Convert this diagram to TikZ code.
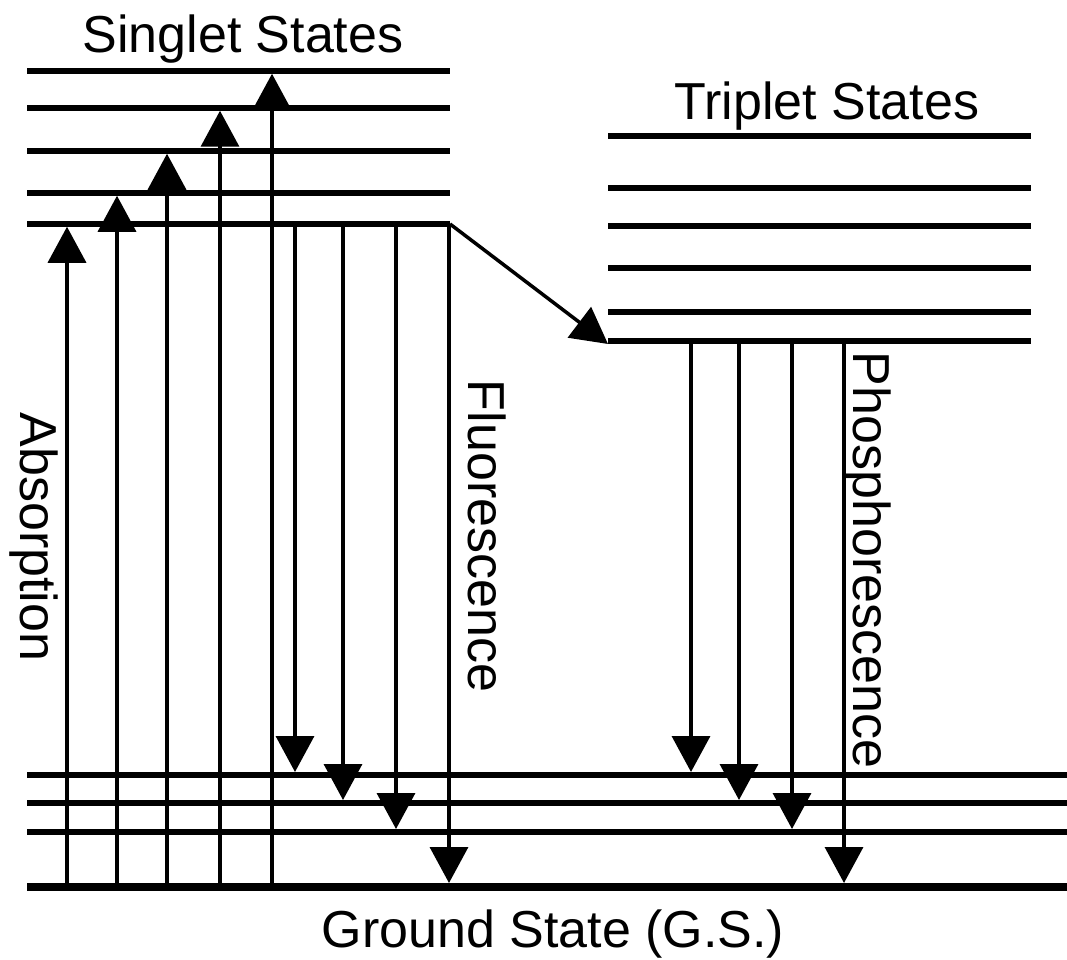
\documentclass[tikz,border=0pt]{standalone}
\usepackage{fontspec}
\setmainfont{Liberation Sans}
\usetikzlibrary{arrows.meta}
\begin{document}
\begin{tikzpicture}[x=1pt,y=-1pt,
  level/.style={line width=5.5pt},
  sublevel/.style={line width=6pt},
  groundlevel/.style={line width=8pt},
  trans/.style={line width=3.5pt,-{Triangle[length=36pt,width=38pt]}},
  lbl/.style={inner sep=0pt,font=\fontsize{52}{60}\selectfont},
  vlbl/.style={lbl,rotate=-90,anchor=base}]
\useasboundingbox (0,0) rectangle (1067,960);

% energy levels
\coordinate (S5) at (0,71);
\coordinate (S4) at (0,108);
\coordinate (S3) at (0,151);
\coordinate (S2) at (0,193);
\coordinate (S1) at (0,224);
\coordinate (T6) at (0,136);
\coordinate (T5) at (0,188);
\coordinate (T4) at (0,226);
\coordinate (T3) at (0,268);
\coordinate (T2) at (0,312);
\coordinate (T1) at (0,341);
\coordinate (G3) at (0,775);
\coordinate (G2) at (0,803);
\coordinate (G1) at (0,832);
\coordinate (G)  at (0,887);

% horizontal extents
\coordinate (sl) at (27,0);
\coordinate (sr) at (450,0);
\coordinate (tl) at (608,0);
\coordinate (tr) at (1031,0);
\coordinate (gr) at (1067,0);

\foreach \l in {S1,S2,S3,S4,S5}
  \draw[level] (sl |- \l) -- (sr |- \l);
\foreach \l in {T1,T2,T3,T4,T5,T6}
  \draw[level] (tl |- \l) -- (tr |- \l);
\foreach \l in {G1,G2,G3}
  \draw[sublevel] (sl |- \l) -- (gr |- \l);
\draw[groundlevel] (sl |- G) -- (gr |- G);

% absorption
\coordinate (a1) at (67,0);
\coordinate (a2) at (117,0);
\coordinate (a3) at (167,0);
\coordinate (a4) at (220,0);
\coordinate (a5) at (272,0);
\draw[trans,shorten >=2.75pt] (a1 |- G) -- (a1 |- S1);
\draw[trans,shorten >=2.75pt] (a2 |- G) -- (a2 |- S2);
\draw[trans,shorten >=2.75pt] (a3 |- G) -- (a3 |- S3);
\draw[trans,shorten >=2.75pt] (a4 |- G) -- (a4 |- S4);
\draw[trans,shorten >=2.75pt] (a5 |- G) -- (a5 |- S5);

% fluorescence
\coordinate (f1) at (295,0);
\coordinate (f2) at (343,0);
\coordinate (f3) at (396,0);
\coordinate (f4) at (449,0);
\draw[trans,shorten >=3pt] (f1 |- S1) -- (f1 |- G3);
\draw[trans,shorten >=3pt] (f2 |- S1) -- (f2 |- G2);
\draw[trans,shorten >=3pt] (f3 |- S1) -- (f3 |- G1);
\draw[trans,shorten >=4pt] (f4 |- S1) -- (f4 |- G);

% intersystem crossing
\draw[trans] (sr |- S1) -- ([yshift=-3pt]tl |- T1);

% phosphorescence
\coordinate (p1) at (691,0);
\coordinate (p2) at (739,0);
\coordinate (p3) at (792,0);
\coordinate (p4) at (844,0);
\draw[trans,shorten >=3pt] (p1 |- T1) -- (p1 |- G3);
\draw[trans,shorten >=3pt] (p2 |- T1) -- (p2 |- G2);
\draw[trans,shorten >=3pt] (p3 |- T1) -- (p3 |- G1);
\draw[trans,shorten >=4pt] (p4 |- T1) -- (p4 |- G);

% labels
\node[lbl,anchor=base] (singlet) at (243,53) {Singlet States};
\node[lbl,anchor=base] (triplet) at (827,120) {Triplet States};
\node[lbl,anchor=base] (ground) at (553,947) {Ground State (G.S.)};
\node[vlbl] (absorption) at (20,537) {Absorption};
\node[vlbl] (fluorescence) at (468,536) {Fluorescence};
\node[vlbl] (phosphorescence) at (853,560) {Phosphorescence};
\end{tikzpicture}
\end{document}
